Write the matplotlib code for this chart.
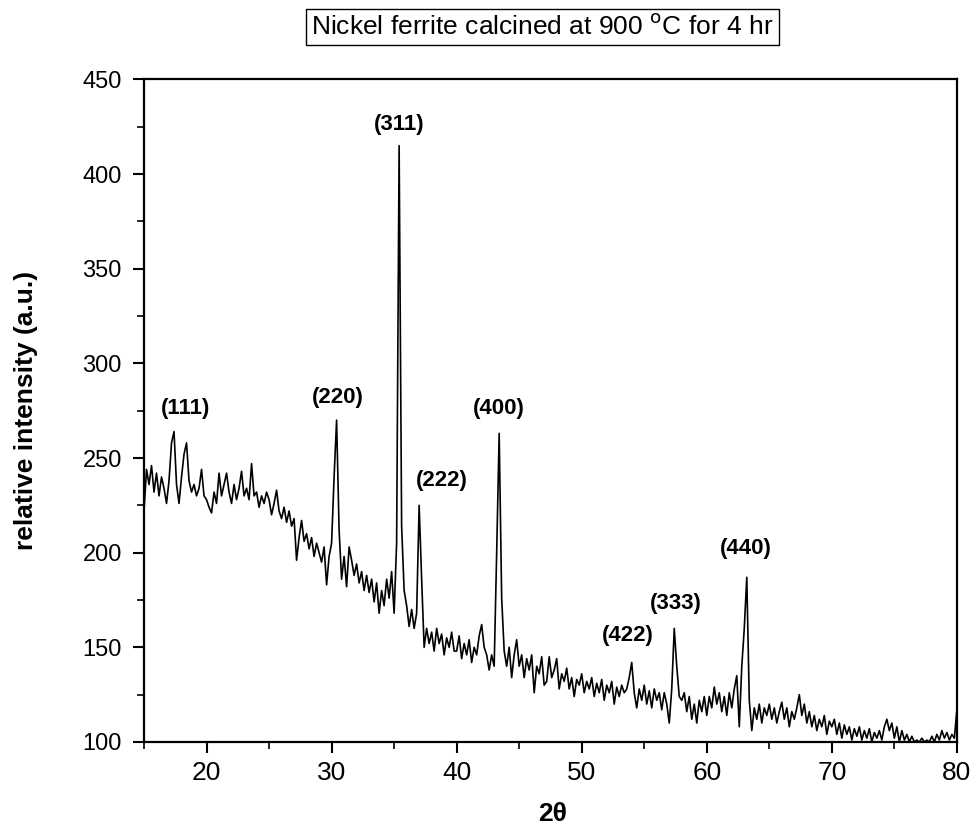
import matplotlib
matplotlib.use("Agg")
import matplotlib.pyplot as plt
from matplotlib.ticker import MultipleLocator
import numpy as np

# XRD pattern of nickel ferrite, 2theta sampled every 0.2 deg from 15 to 80
theta_start = 15.0
theta_step = 0.2

int_15_20 = [222, 244, 236, 246, 232, 242, 230, 240, 234, 226, 238, 258, 264, 236, 226,
             240, 252, 258, 238, 232, 236, 230, 234, 244, 230]
int_20_25 = [228, 224, 221, 232, 226, 242, 230, 236, 242, 232, 226, 236, 228, 234, 243,
             230, 234, 228, 247, 230, 232, 224, 230, 226, 232]
int_25_30 = [228, 220, 226, 233, 222, 218, 224, 216, 222, 214, 218, 196, 208, 217, 206,
             210, 202, 208, 198, 205, 200, 195, 203, 183, 198]
int_30_35 = [205, 240, 270, 212, 186, 198, 182, 203, 196, 188, 194, 184, 190, 180, 188,
             179, 186, 174, 184, 168, 180, 172, 186, 176, 190]
int_35_40 = [168, 205, 415, 214, 180, 172, 161, 170, 160, 168, 225, 186, 150, 160, 152,
             158, 148, 160, 152, 157, 146, 155, 150, 158, 148]
int_40_45 = [148, 156, 144, 152, 146, 154, 142, 150, 146, 156, 162, 150, 146, 138, 146,
             140, 200, 263, 176, 148, 140, 150, 134, 146, 154]
int_45_50 = [140, 146, 134, 144, 138, 146, 126, 140, 136, 145, 130, 132, 145, 134, 138,
             144, 128, 136, 132, 139, 128, 134, 124, 133, 130]
int_50_55 = [136, 126, 132, 128, 134, 124, 131, 126, 133, 122, 130, 126, 132, 120, 129,
             124, 130, 126, 128, 134, 142, 126, 118, 128, 122]
int_55_60 = [130, 120, 127, 118, 128, 122, 126, 117, 126, 120, 110, 128, 160, 140, 124,
             122, 126, 116, 124, 112, 120, 110, 122, 116, 124]
int_60_65 = [114, 124, 118, 129, 120, 126, 116, 124, 114, 126, 118, 128, 135, 108, 140,
             160, 187, 122, 106, 118, 112, 120, 110, 118, 114]
int_65_70 = [120, 112, 118, 110, 116, 121, 112, 118, 108, 116, 112, 118, 125, 114, 120,
             110, 116, 108, 114, 106, 112, 108, 114, 104, 111]
int_70_75 = [108, 112, 104, 110, 102, 109, 104, 108, 101, 107, 103, 108, 101, 106, 102,
             107, 100, 105, 102, 106, 101, 108, 112, 106, 110]
int_75_80 = [102, 108, 100, 106, 101, 104, 100, 103, 100, 101, 100, 102, 100, 101, 100,
             103, 100, 104, 101, 106, 102, 105, 101, 104, 102, 117]

intensity = np.array(int_15_20 + int_20_25 + int_25_30 + int_30_35 + int_35_40 + int_40_45
                     + int_45_50 + int_50_55 + int_55_60 + int_60_65 + int_65_70
                     + int_70_75 + int_75_80, dtype=float)
two_theta = theta_start + theta_step * np.arange(len(intensity))

# peak labels (Miller indices) and where they sit
peak_labels = ["(111)", "(220)", "(311)", "(222)", "(400)", "(422)", "(333)", "(440)"]
peak_label_x = [18.3, 30.5, 35.4, 38.8, 43.4, 53.7, 57.5, 63.1]
peak_label_y = [276, 282, 426, 238, 276, 156, 173, 202]

fonts = ["Liberation Sans", "DejaVu Sans"]

fig = plt.figure(figsize=(9.77, 8.36), dpi=100)
ax = fig.add_axes([0.1474, 0.1125, 0.832, 0.7925])

ax.plot(two_theta, intensity, color="black", lw=1.2)

ax.set_xlim(15, 80)
ax.set_ylim(100, 450)
ax.xaxis.set_major_locator(MultipleLocator(10))
ax.xaxis.set_minor_locator(MultipleLocator(5))
ax.yaxis.set_major_locator(MultipleLocator(50))
ax.yaxis.set_minor_locator(MultipleLocator(25))
ax.tick_params(which="major", direction="out", length=8, width=1.5)
ax.tick_params(which="minor", direction="out", length=5, width=1.2)
ax.tick_params(axis="y", which="major", pad=8)
ax.tick_params(axis="x", which="major", pad=6)
ax.tick_params(axis="x", which="both", top=False)
ax.tick_params(axis="y", which="both", right=False)
for s in ax.spines.values():
    s.set_linewidth(1.6)

for lab in ax.get_yticklabels():
    lab.set_family(fonts)
    lab.set_fontsize(17)
for lab in ax.get_xticklabels():
    lab.set_family(fonts)
    lab.set_fontsize(19)

ax.set_ylabel("relative intensity (a.u.)", fontsize=19, fontweight="bold", family=fonts)
ax.yaxis.set_label_coords(-0.13, 0.5)
ax.set_xlabel("2θ", fontsize=19, fontweight="bold", family=fonts)
ax.xaxis.set_label_coords(0.502, -0.09)

for lab, x, y in zip(peak_labels, peak_label_x, peak_label_y):
    ax.text(x, y, lab, ha="center", va="center", fontsize=16, fontweight="bold",
            family=fonts)

fig.text(0.555, 0.968, r"Nickel ferrite calcined at 900 $^{\mathrm{o}}$C for 4 hr",
         ha="center", va="center", fontsize=19, family=fonts,
         bbox=dict(boxstyle="square,pad=0.2", fc="white", ec="black", lw=1.0))

fig.savefig("out.png", dpi=100)
